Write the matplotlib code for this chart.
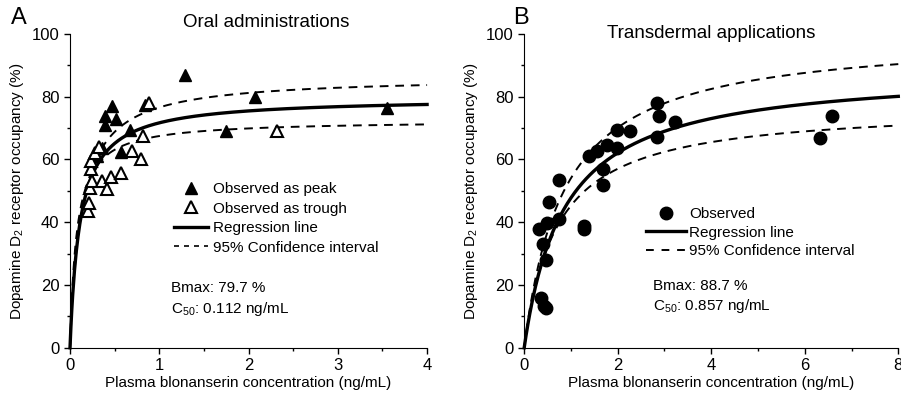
import numpy as np
import matplotlib
matplotlib.use("Agg")
import matplotlib.pyplot as plt
from matplotlib.ticker import MultipleLocator

plt.rcParams['font.family'] = ['Liberation Sans', 'DejaVu Sans']
plt.rcParams['mathtext.fontset'] = 'custom'
plt.rcParams['mathtext.rm'] = 'Liberation Sans'
plt.rcParams['mathtext.default'] = 'regular'

# Panel A: oral administrations
peak_x = [0.30, 0.36, 0.39, 0.39, 0.47, 0.52, 0.57, 0.67, 0.84, 1.29, 1.75, 2.07, 3.55]
peak_y = [61, 63.5, 74, 71, 77, 73, 62.3, 69.4, 77.5, 87, 69.2, 80, 76.3]
trough_x = [0.20, 0.21, 0.22, 0.23, 0.24, 0.25, 0.28, 0.32, 0.36, 0.42, 0.46, 0.57,
            0.69, 0.80, 0.82, 0.88, 2.32]
trough_y = [43.5, 46, 51, 57, 59.5, 53, 62, 64, 53, 50.5, 54.3, 55.6,
            62.8, 60, 67.5, 78, 69]
oral_fit = (79.7, 0.112)
oral_upper = (86.4, 0.128)
oral_lower = (72.5, 0.0745)

# Panel B: transdermal applications
td_x = [0.36, 0.42, 0.46, 0.32, 0.41, 0.47, 0.48, 0.52, 0.75, 0.75, 1.28, 1.28,
        1.39, 1.55, 1.68, 1.69, 1.76, 1.98, 1.98, 2.27, 2.84, 2.85, 2.89, 3.23,
        6.32, 6.58]
td_y = [15.8, 13.2, 12.6, 37.7, 32.9, 28.1, 39.9, 46.3, 40.9, 53.5, 38.8, 37.7,
        61.2, 62.8, 57, 51.8, 64.6, 69.5, 63.6, 69.2, 67.1, 78, 73.7, 71.9,
        66.9, 74]
td_fit = (88.7, 0.857)
td_upper = (100.0, 0.85)
td_lower = (77.0, 0.70)


def emax(c, p):
    return p[0] * c / (c + p[1])


fig = plt.figure(figsize=(9.01, 3.95), dpi=100)
axA = fig.add_axes([0.0777, 0.1197, 0.3963, 0.7943])
axB = fig.add_axes([0.5818, 0.1197, 0.4152, 0.7943])

dash = (0, (4.5, 3.5))

# Panel A
c = np.linspace(0, 4, 400)
axA.plot(c, emax(c, oral_upper), color='black', lw=1.4, ls=dash)
axA.plot(c, emax(c, oral_lower), color='black', lw=1.4, ls=dash)
axA.plot(c, emax(c, oral_fit), color='black', lw=2.4)
axA.plot(peak_x, peak_y, ls='none', marker='^', ms=9, color='black')
axA.plot(trough_x, trough_y, ls='none', marker='^', ms=9, mfc='white',
         mec='black', mew=1.5)

hA = [
    plt.Line2D([], [], ls='none', marker='^', ms=9, color='black'),
    plt.Line2D([], [], ls='none', marker='^', ms=9, mfc='white', mec='black', mew=1.5),
    plt.Line2D([], [], color='black', lw=2.4),
    plt.Line2D([], [], color='black', lw=1.2, ls=(0, (3, 3))),
]
axA.legend(hA, ['Observed as peak', 'Observed as trough', 'Regression line',
                '95% Confidence interval'],
           loc='upper left', bbox_to_anchor=(0.271, 0.552), frameon=False,
           fontsize=11, handlelength=2.2, handletextpad=0.3, labelspacing=0.36,
           borderpad=0)
axA.text(0.283, 0.177, 'Bmax: 79.7 %', transform=axA.transAxes, fontsize=11)
axA.text(0.283, 0.11, 'C$_{50}$: 0.112 ng/mL', transform=axA.transAxes, fontsize=11)

axA.set_xlim(0, 4)
axA.set_ylim(0, 100)
axA.xaxis.set_major_locator(MultipleLocator(1))
axA.xaxis.set_minor_locator(MultipleLocator(0.5))
axA.set_title('Oral administrations', fontsize=13.5, x=0.55, y=0.995)
axA.set_xlabel('Plasma blonanserin concentration (ng/mL)', fontsize=11, labelpad=2)
axA.set_ylabel('Dopamine D$_2$ receptor occupancy (%)', fontsize=11, labelpad=4)
fig.text(0.012, 0.94, 'A', fontsize=17)

# Panel B
c = np.linspace(0, 8, 400)
axB.plot(c, emax(c, td_upper), color='black', lw=1.4, ls=dash)
axB.plot(c, emax(c, td_lower), color='black', lw=1.4, ls=dash)
axB.plot(c, emax(c, td_fit), color='black', lw=2.4)
axB.plot(td_x, td_y, ls='none', marker='o', ms=9, color='black')

hB = [
    plt.Line2D([], [], ls='none', marker='o', ms=9, color='black'),
    plt.Line2D([], [], color='black', lw=2.4),
    plt.Line2D([], [], color='black', lw=1.4, ls=(0, (4, 4))),
]
axB.legend(hB, ['Observed', 'Regression line', '95% Confidence interval'],
           loc='upper left', bbox_to_anchor=(0.306, 0.473), frameon=False,
           fontsize=11, handlelength=2.6, handletextpad=0.2, labelspacing=0.3,
           borderpad=0)
axB.text(0.345, 0.185, 'Bmax: 88.7 %', transform=axB.transAxes, fontsize=11)
axB.text(0.345, 0.12, 'C$_{50}$: 0.857 ng/mL', transform=axB.transAxes, fontsize=11)

axB.set_xlim(0, 8)
axB.set_ylim(0, 100)
axB.xaxis.set_major_locator(MultipleLocator(2))
axB.xaxis.set_minor_locator(MultipleLocator(1))
axB.set_title('Transdermal applications', fontsize=13.5, y=0.96)
axB.set_xlabel('Plasma blonanserin concentration (ng/mL)', fontsize=11, labelpad=2)
axB.set_ylabel('Dopamine D$_2$ receptor occupancy (%)', fontsize=11, labelpad=4)
fig.text(0.569, 0.94, 'B', fontsize=17)

for ax in (axA, axB):
    ax.yaxis.set_major_locator(MultipleLocator(20))
    ax.yaxis.set_minor_locator(MultipleLocator(10))
    ax.spines['top'].set_visible(False)
    ax.spines['right'].set_visible(False)
    ax.tick_params(which='major', direction='out', length=4, width=1, labelsize=12)
    ax.tick_params(which='minor', direction='out', length=2.5, width=1)
    for l in ax.lines:
        l.set_clip_on(False)

fig.savefig('out.png', dpi=100)
